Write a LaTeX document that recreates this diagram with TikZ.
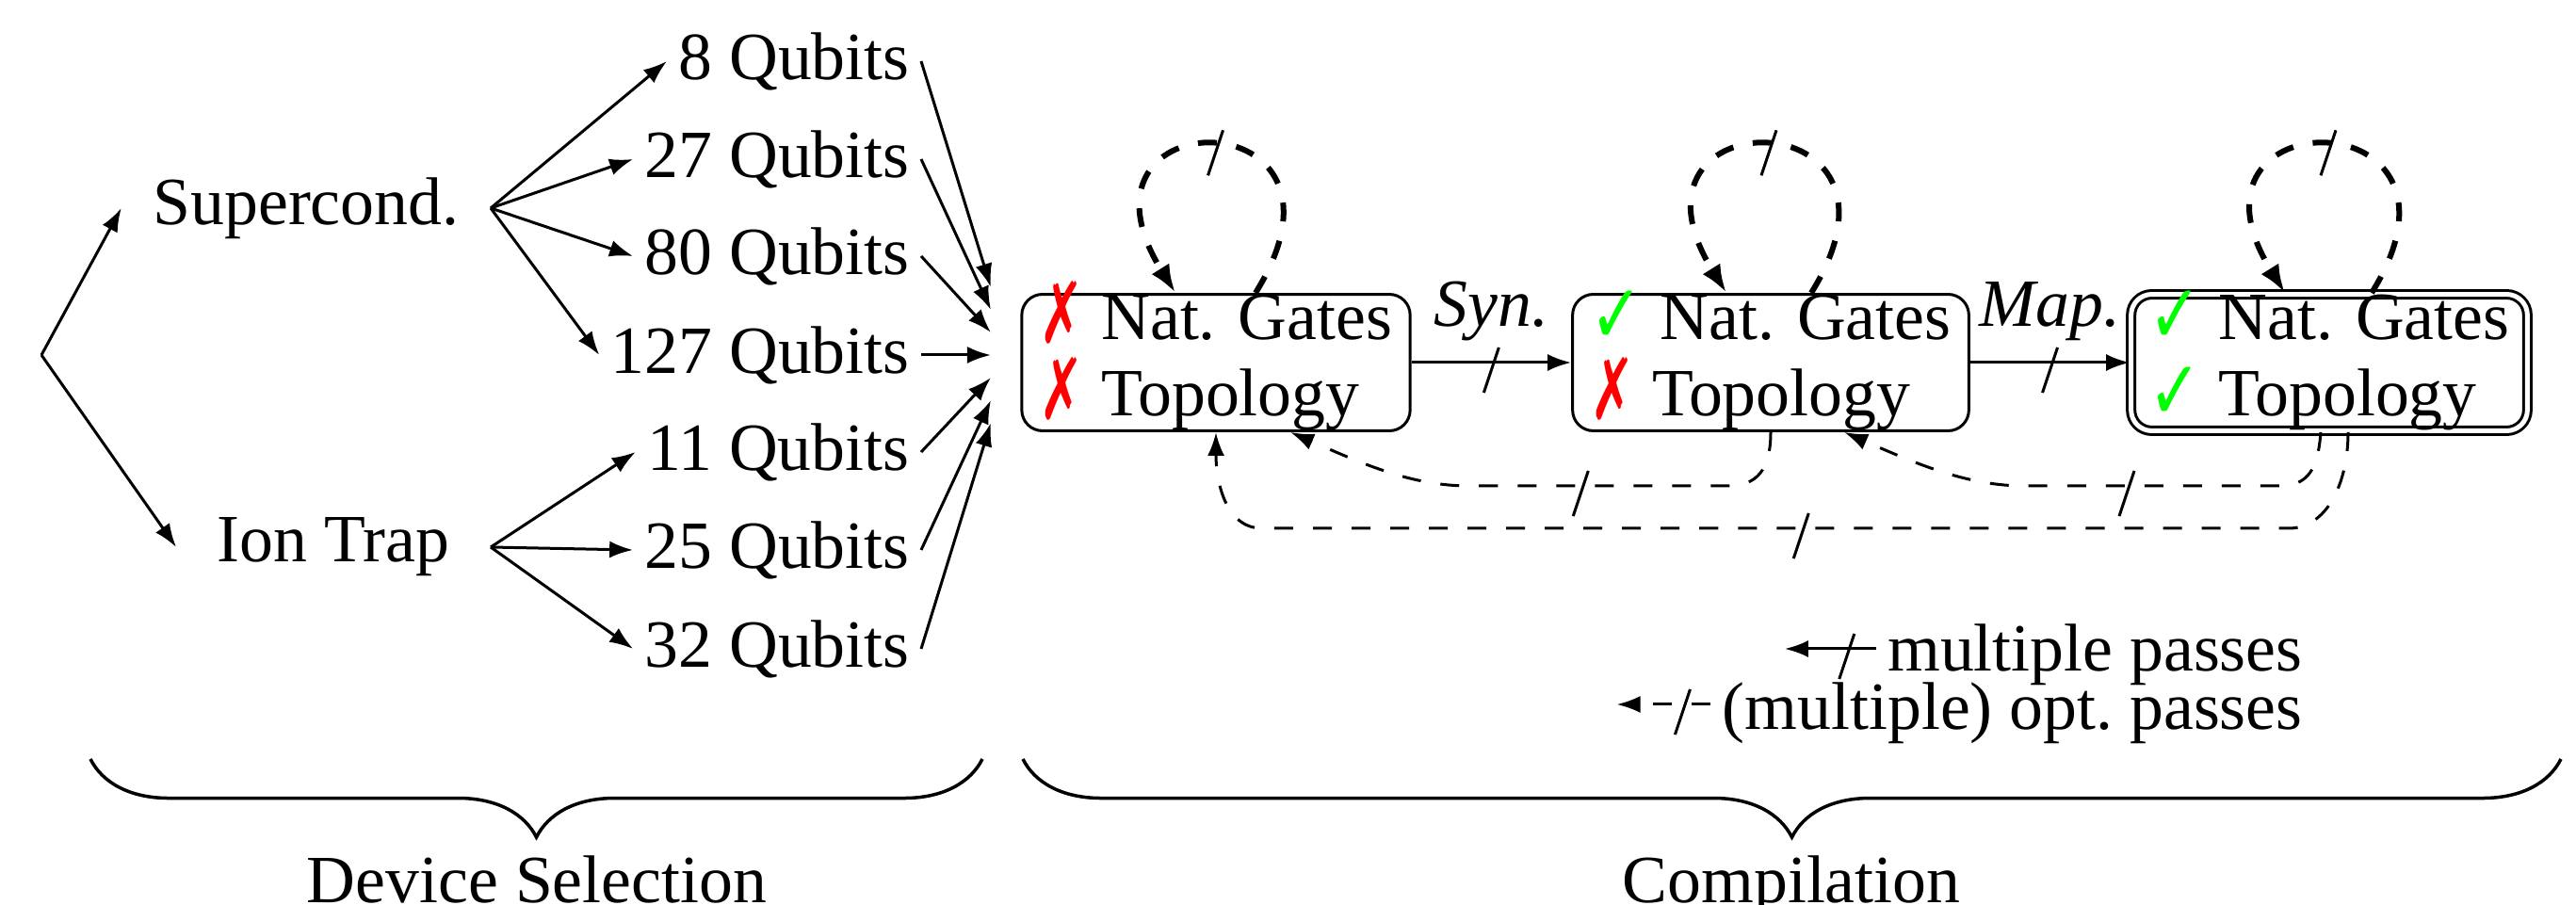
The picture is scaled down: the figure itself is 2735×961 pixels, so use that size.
\documentclass[tikz,border=0pt]{standalone}
\usepackage{fontspec}
\usepackage{graphicx}
\setmainfont{Liberation Serif}
\newfontfamily\symfont{DejaVu Sans}
\usetikzlibrary{arrows.meta,decorations.pathreplacing}
\newcommand{\okmark}{\smash{\symfont\color{green}\fontsize{19pt}{19pt}\selectfont\raisebox{-0.06em}{\scalebox{1.0}[1.32]{✓}}}}
\newcommand{\nomark}{\smash{\symfont\color{red}\fontsize{19pt}{19pt}\selectfont\raisebox{-0.06em}{\scalebox{0.85}[1.35]{✗}}}}
\tikzset{
  txt/.style={font=\fontsize{20.4pt}{23.3pt}\selectfont},
  arr/.style={line width=0.03cm, -{Latex[length=0.25cm,width=0.18cm]}},
  box/.style={draw, line width=0.03cm, rounded corners=0.22cm, align=left,
    inner xsep=0.19cm, inner ysep=0cm, font=\fontsize{20.4pt}{23.3pt}\selectfont},
  loopst/.style={line width=0.06cm, dash pattern=on 0.2cm off 0.21cm,
    -{Latex[length=0.3cm,width=0.22cm]}},
  dline/.style={arr, dash pattern=on 0.2cm off 0.21cm},
  lbl/.style={font=\fontsize{20.4pt}{23.3pt}\selectfont\itshape, above=0.1cm},
  slashmark/.pic={\draw[solid, -, line width=0.03cm] (-0.08cm,-0.32cm) -- (0.08cm,0.16cm);},
  bracest/.style={line width=0.035cm, decorate,
    decoration={brace, mirror, amplitude=0.83cm}},
}
\begin{document}
\begin{tikzpicture}[x=0.01cm, y=-0.01cm]
\useasboundingbox (0,0) rectangle (2735,961);

% device selection tree
\coordinate (root) at (44,377);
\node[txt, anchor=east, inner xsep=0.33cm] (sc) at (521,221) {Supercond.};
\node[txt, anchor=east, inner xsep=0.43cm] (it) at (521,581) {Ion Trap};
\draw[arr] (root) -- (sc.west);
\draw[arr] (root) -- (it.west);

\node[txt, anchor=east] (q8)   at (978,65)  {8 Qubits};
\node[txt, anchor=east] (q27)  at (978,169) {27 Qubits};
\node[txt, anchor=east] (q80)  at (978,272) {80 Qubits};
\node[txt, anchor=east] (q127) at (978,377) {127 Qubits};
\node[txt, anchor=east] (q11)  at (978,480) {11 Qubits};
\node[txt, anchor=east] (q25)  at (978,584) {25 Qubits};
\node[txt, anchor=east] (q32)  at (978,689) {32 Qubits};

\draw[arr] (sc.east) -- (q8.west);
\draw[arr] (sc.east) -- (q27.west);
\draw[arr] (sc.east) -- (q80.west);
\draw[arr] (sc.east) -- (q127.west);
\draw[arr] (it.east) -- (q11.west);
\draw[arr] (it.east) -- (q25.west);
\draw[arr] (it.east) -- (q32.west);

\coordinate (h1) at (1052,305);
\coordinate (h2) at (1052,329);
\coordinate (h3) at (1052,353);
\coordinate (h4) at (1052,377);
\coordinate (h5) at (1052,401);
\coordinate (h6) at (1052,425);
\coordinate (h7) at (1052,449);
\draw[arr] (q8.east) -- (h1);
\draw[arr] (q27.east) -- (h2);
\draw[arr] (q80.east) -- (h3);
\draw[arr] (q127.east) -- (h4);
\draw[arr] (q11.east) -- (h5);
\draw[arr] (q25.east) -- (h6);
\draw[arr] (q32.east) -- (h7);

% compilation boxes
\node[box] (b1) at (1291,385) {\nomark\ Nat. Gates\\\nomark\ Topology};
\node[box] (b2) at (1880,385) {\okmark\ Nat. Gates\\\nomark\ Topology};
\node[box, double, double distance=0.05cm] (b3) at (2473,385) {\okmark\ Nat. Gates\\\okmark\ Topology};

\draw[arr] (b1.east) -- (b2.west) node[lbl, pos=.5] {Syn.} pic[pos=.5]{slashmark};
\draw[arr] (b2.east) -- (b3.west) node[lbl, pos=.5] {Map.} pic[pos=.5]{slashmark};

% self loops
\draw[loopst] ([xshift=0.42cm]b1.north) .. controls +(130,-209) and +(-130,-209) .. ([xshift=-0.43cm]b1.north) pic[pos=.5]{slashmark};
\draw[loopst] ([xshift=0.43cm]b2.north) .. controls +(130,-209) and +(-130,-209) .. ([xshift=-0.47cm]b2.north) pic[pos=.5]{slashmark};
\draw[loopst] ([xshift=0.45cm]b3.north) .. controls +(130,-209) and +(-130,-209) .. ([xshift=-0.47cm]b3.north) pic[pos=.5]{slashmark};

% feedback passes
\draw[dline] (b2.south) .. controls +(0,40) and +(30,0) .. (1835,516) -- (1560,516) pic[pos=.57]{slashmark}
  .. controls +(-60,0) and +(80,35) .. ([xshift=0.79cm]b1.south);
\draw[dline] ([xshift=-0.09cm]b3.south) .. controls +(-3,40) and +(30,0) .. (2420,516) -- (2150,516) pic[pos=.6]{slashmark}
  .. controls +(-60,0) and +(80,35) .. ([xshift=0.78cm]b2.south);
\draw[dline] ([xshift=0.2cm]b3.south) .. controls +(0,55) and +(40,0) .. (2430,561) -- (1340,561) pic[pos=.475]{slashmark}
  .. controls +(-40,0) and +(0,50) .. (b1.south);

% legend
\node[txt, anchor=east] (lg1) at (2457,695) {multiple passes};
\node[txt, anchor=east] (lg2) at (2457,757) {(multiple) opt.\ passes};
\draw[arr] ([yshift=0.06cm]lg1.west) -- ++(-97,0) pic[pos=.32]{slashmark};
\draw[dline] ([yshift=0.09cm]lg2.west) -- ++(-100,0) pic[pos=.3]{slashmark};

% braces
\draw[bracest] (96,806) -- (1043,806);
\draw[bracest] (1086,806) -- (2719,806);
\node[txt, anchor=base] (ds) at (570,958) {Device Selection};
\node[txt, anchor=base] (cp) at (1902,958) {Compilation};
\end{tikzpicture}
\end{document}
